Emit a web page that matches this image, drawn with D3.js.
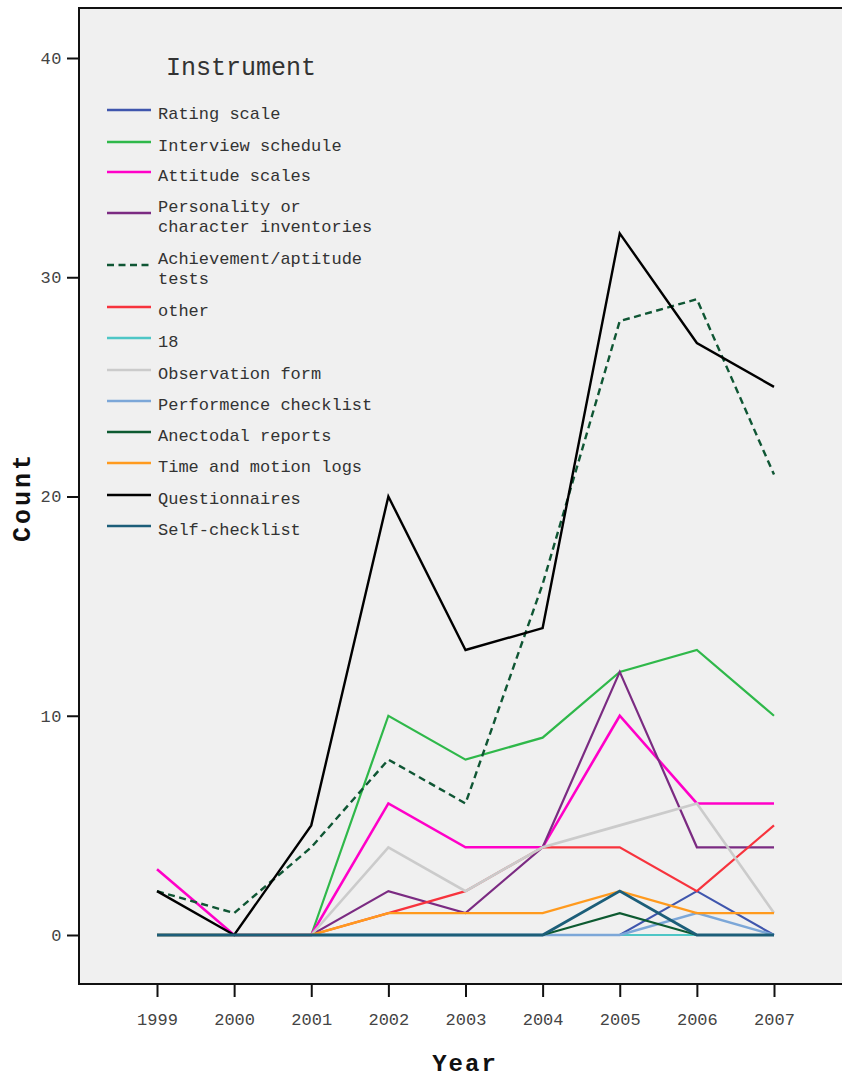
<!DOCTYPE html>
<html>
<head>
<meta charset="utf-8">
<script src="https://cdn.jsdelivr.net/npm/d3@7"></script>
<style>
  html, body { margin: 0; padding: 0; background: #ffffff; }
  svg { display: block; }
</style>
</head>
<body>
<script>
const years = [1999, 2000, 2001, 2002, 2003, 2004, 2005, 2006, 2007];
const yTicks = [0, 10, 20, 30, 40];

const ratingScale        = [0, 0, 0, 0, 0, 0, 0, 2, 0];
const interviewSchedule  = [0, 0, 0, 10, 8, 9, 12, 13, 10];
const attitudeScales     = [3, 0, 0, 6, 4, 4, 10, 6, 6];
const personality        = [0, 0, 0, 2, 1, 4, 12, 4, 4];
const achievement        = [2, 1, 4, 8, 6, 16, 28, 29, 21];
const other              = [0, 0, 0, 1, 2, 4, 4, 2, 5];
const eighteen           = [0, 0, 0, 0, 0, 0, 0, 0, 0];
const observationForm    = [0, 0, 0, 4, 2, 4, 5, 6, 1];
const performenceCheck   = [0, 0, 0, 0, 0, 0, 0, 1, 0];
const anectodalReports   = [0, 0, 0, 0, 0, 0, 1, 0, 0];
const timeMotionLogs     = [0, 0, 0, 1, 1, 1, 2, 1, 1];
const questionnaires     = [2, 0, 5, 20, 13, 14, 32, 27, 25];
const selfChecklist      = [0, 0, 0, 0, 0, 0, 2, 0, 0];

const seriesNames = [
  ["Rating scale"], ["Interview schedule"], ["Attitude scales"],
  ["Personality or", "character inventories"], ["Achievement/aptitude", "tests"],
  ["other"], ["18"], ["Observation form"], ["Performence checklist"],
  ["Anectodal reports"], ["Time and motion logs"], ["Questionnaires"], ["Self-checklist"]
];
const seriesValues = [ratingScale, interviewSchedule, attitudeScales, personality, achievement,
  other, eighteen, observationForm, performenceCheck, anectodalReports, timeMotionLogs,
  questionnaires, selfChecklist];
const seriesColors = ["#3f56ad", "#2fb84a", "#ff00c8", "#7b2b82", "#0f5634", "#f7333d",
  "#4ec6c6", "#cbcbcb", "#7ca7d8", "#0d5a31", "#ff9a1e", "#000000", "#1c5e79"];
const seriesDash = [null, null, null, null, "7,4.5", null, null, null, null, null, null, null, null];
const seriesWidth = [2.2, 2.2, 2.6, 2.2, 2.4, 2.2, 2.2, 2.6, 2.4, 2.2, 2.4, 2.4, 2.8];

const W = 842, H = 1081;
const svg = d3.select("body").append("svg").attr("width", W).attr("height", H);
const fontMono = "'Liberation Mono', 'DejaVu Sans Mono', monospace";

const panelLeft = 79, panelTop = 8, panelBottom = 984;
const x = d3.scaleLinear().domain([1999, 2007]).range([157, 774]);
const y = d3.scaleLinear().domain([0, 40]).range([935, 58]);

// panel background
svg.append("rect").attr("x", panelLeft).attr("y", panelTop)
  .attr("width", W - panelLeft + 5).attr("height", panelBottom - panelTop)
  .attr("fill", "#f0f0f0");

// lines
const line = d3.line().x((d, i) => x(years[i])).y(d => y(d));
const plot = svg.append("g");
seriesValues.forEach((vals, k) => {
  plot.append("path").datum(vals)
    .attr("d", line)
    .attr("fill", "none")
    .attr("stroke", seriesColors[k])
    .attr("stroke-width", seriesWidth[k])
    .attr("stroke-dasharray", seriesDash[k])
    .attr("stroke-linejoin", "miter");
});

// frame lines
svg.append("line").attr("x1", panelLeft).attr("x2", W).attr("y1", panelTop).attr("y2", panelTop)
  .attr("stroke", "#111").attr("stroke-width", 2);
svg.append("line").attr("x1", panelLeft).attr("x2", panelLeft).attr("y1", panelTop - 1).attr("y2", panelBottom + 1)
  .attr("stroke", "#111").attr("stroke-width", 2);
svg.append("line").attr("x1", panelLeft).attr("x2", W).attr("y1", panelBottom).attr("y2", panelBottom)
  .attr("stroke", "#111").attr("stroke-width", 2);

// y axis
const yAxis = d3.axisLeft(y).tickValues(yTicks).tickSize(12).tickPadding(5).tickFormat(d3.format("d"));
const gy = svg.append("g").attr("transform", `translate(${panelLeft},0)`).call(yAxis);
gy.select(".domain").remove();
gy.selectAll(".tick line").attr("stroke", "#111").attr("stroke-width", 2);
gy.selectAll(".tick text").attr("font-family", fontMono).attr("font-size", 17)
  .attr("fill", "#444").attr("letter-spacing", 0.5);

// x axis
const xAxis = d3.axisBottom(x).tickValues(years).tickSize(13).tickPadding(16).tickFormat(d3.format("d"));
const gx = svg.append("g").attr("transform", `translate(0,${panelBottom})`).call(xAxis);
gx.select(".domain").remove();
gx.selectAll(".tick line").attr("stroke", "#111").attr("stroke-width", 2);
gx.selectAll(".tick text").attr("font-family", fontMono).attr("font-size", 17)
  .attr("fill", "#444");

// axis titles
svg.append("text").attr("x", 465).attr("y", 1071).attr("text-anchor", "middle")
  .attr("font-family", fontMono).attr("font-weight", "bold").attr("font-size", 24)
  .attr("letter-spacing", 2).attr("fill", "#111").text("Year");
svg.append("text").attr("transform", "translate(30,497) rotate(-90)").attr("text-anchor", "middle")
  .attr("font-family", fontMono).attr("font-weight", "bold").attr("font-size", 25)
  .attr("letter-spacing", 3).attr("fill", "#111").text("Count");

// legend
const legend = svg.append("g");
legend.append("text").attr("x", 166).attr("y", 75)
  .attr("font-family", fontMono).attr("font-size", 25).attr("fill", "#333").text("Instrument");
const legendLineY = [110, 142, 172, 213, 265, 307, 338, 370, 401, 432, 463, 495, 526];
seriesNames.forEach((lbl, k) => {
  const ly = legendLineY[k];
  legend.append("line").attr("x1", 107).attr("x2", 151).attr("y1", ly).attr("y2", ly)
    .attr("stroke", seriesColors[k]).attr("stroke-width", 2.5)
    .attr("stroke-dasharray", seriesDash[k]);
  const t = legend.append("text").attr("font-family", fontMono).attr("font-size", 17)
    .attr("fill", "#333");
  if (lbl.length === 1) {
    t.append("tspan").attr("x", 158).attr("y", ly + 9).text(lbl[0]);
  } else {
    t.append("tspan").attr("x", 158).attr("y", ly - 1).text(lbl[0]);
    t.append("tspan").attr("x", 158).attr("y", ly + 19).text(lbl[1]);
  }
});
</script>
</body>
</html>
